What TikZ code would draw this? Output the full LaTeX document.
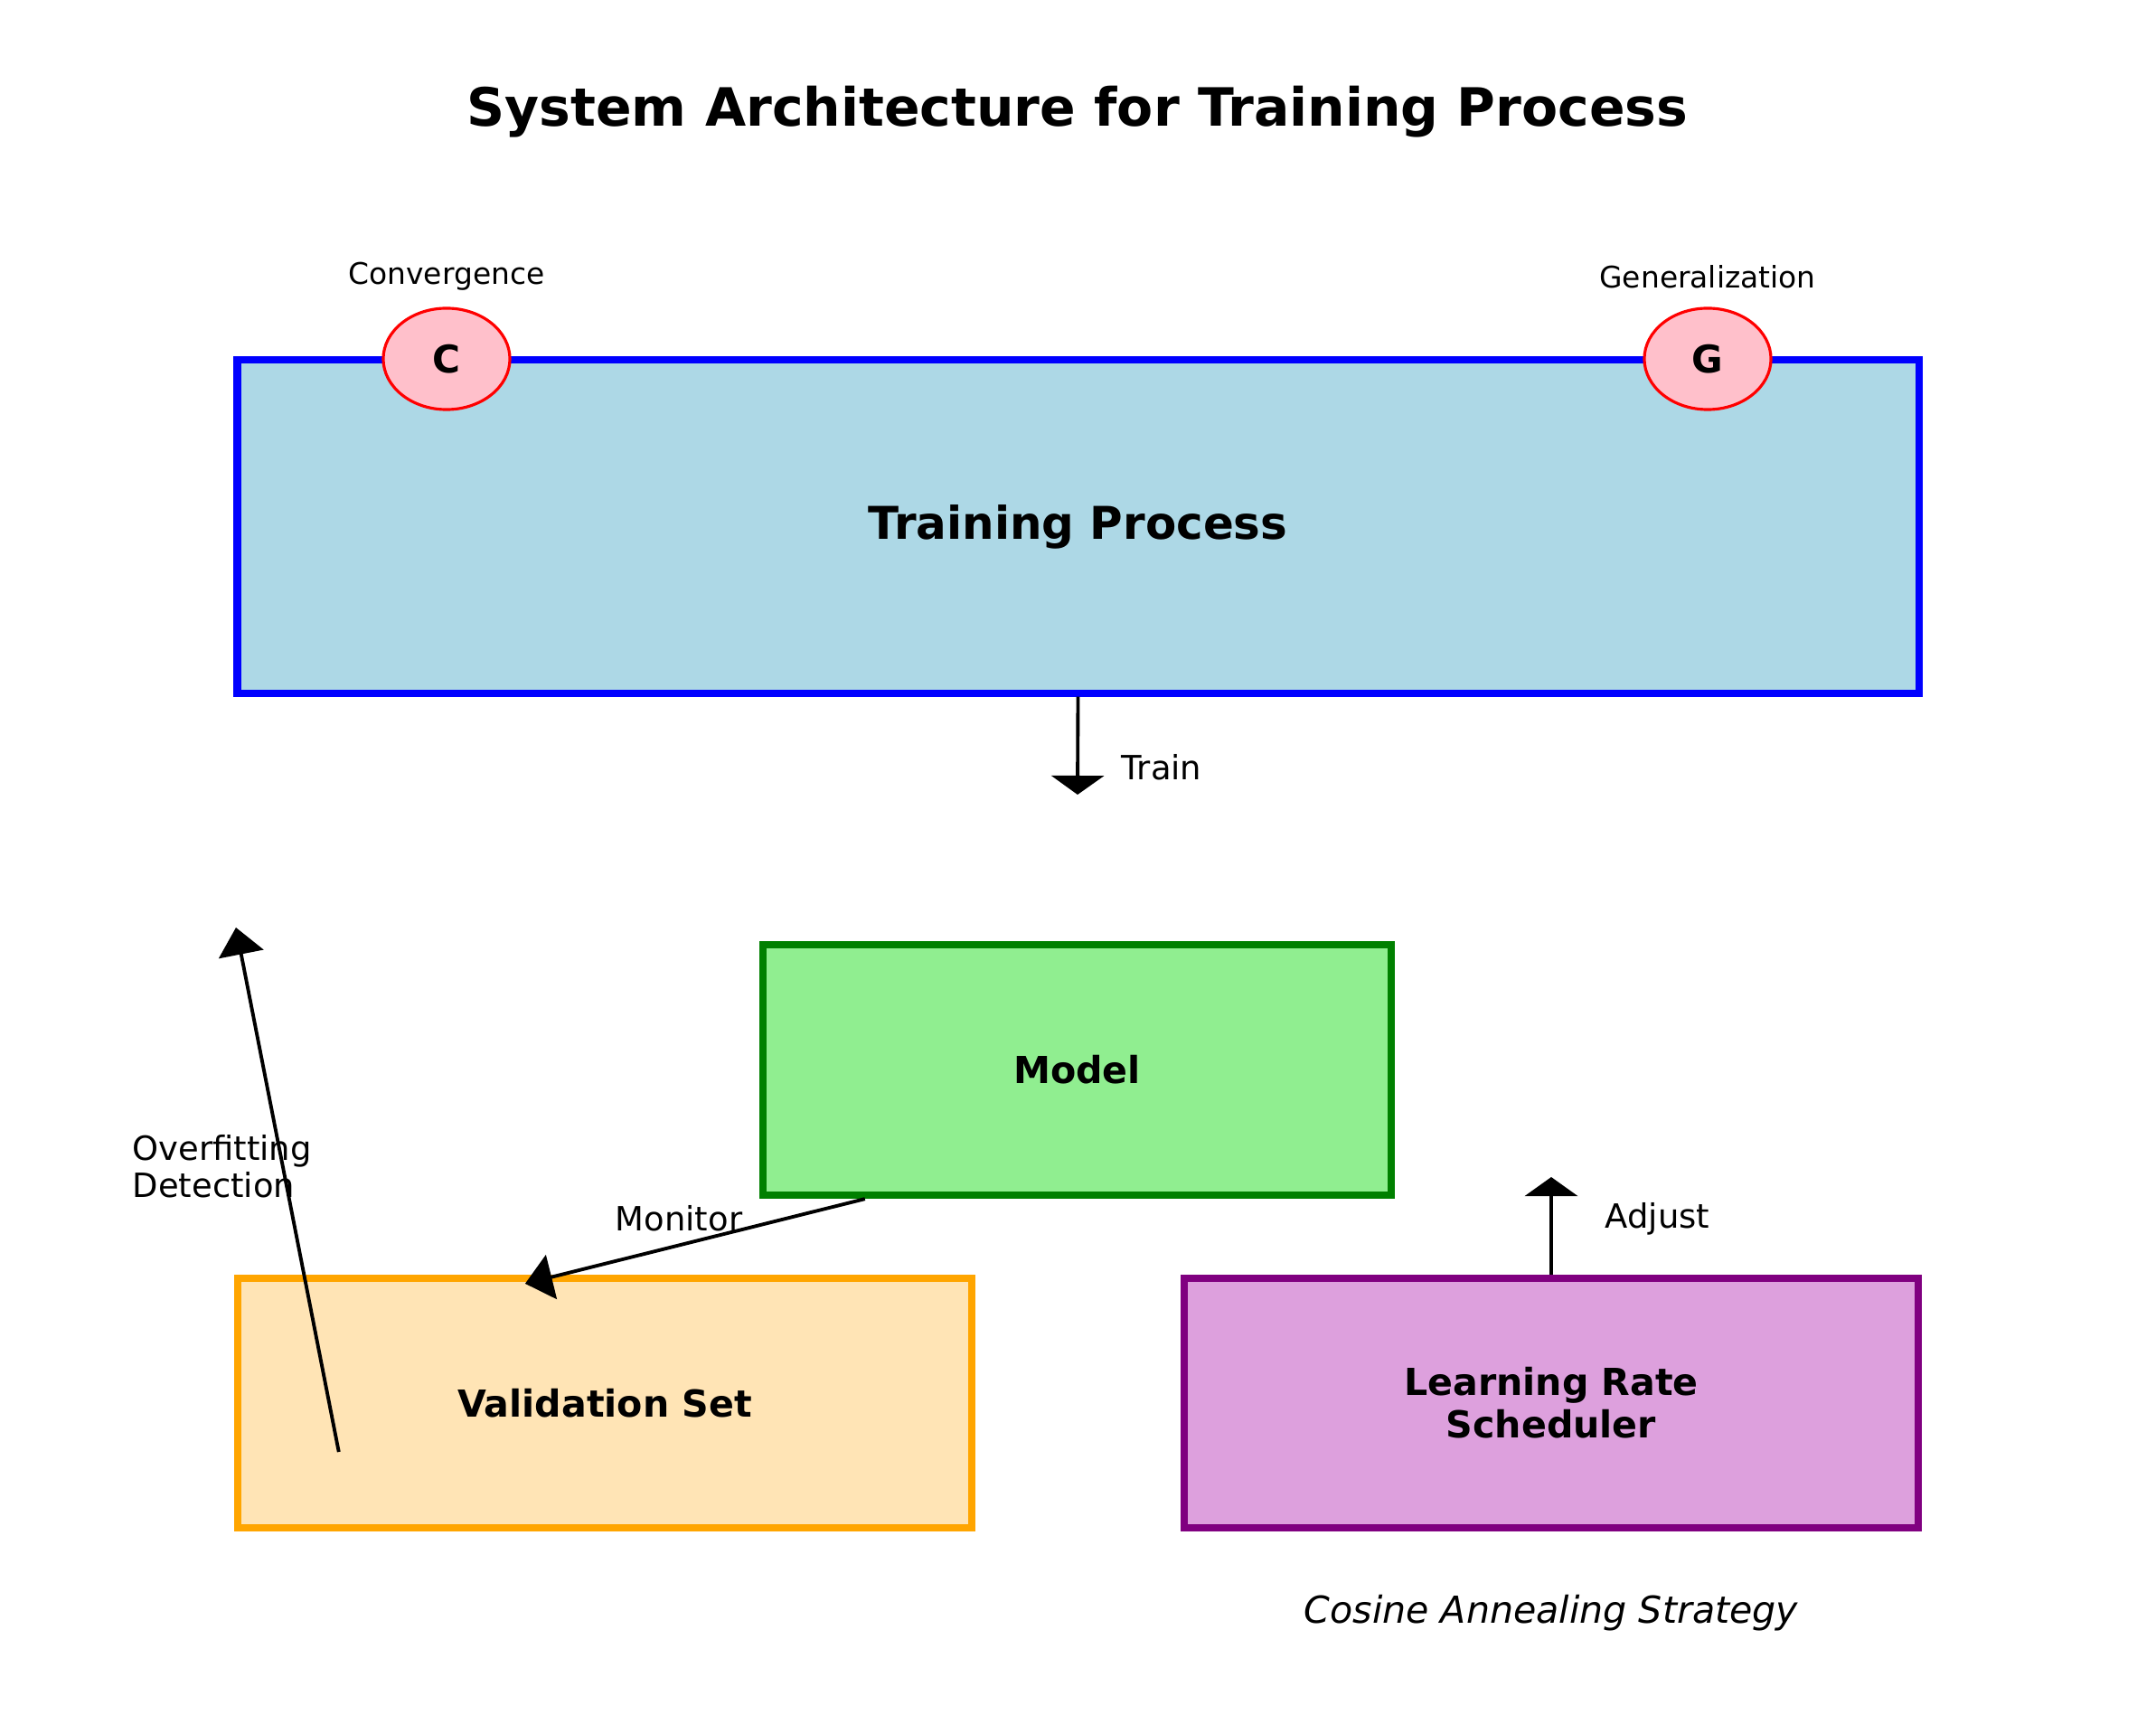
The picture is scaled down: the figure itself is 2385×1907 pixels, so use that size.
\documentclass[tikz,border=0pt]{standalone}
\usepackage{fontspec}
\setmainfont{DejaVu Sans}
\usetikzlibrary{arrows.meta,shapes.geometric,calc}
\definecolor{lblue}{HTML}{ADD8E6}
\definecolor{pblue}{HTML}{0000FF}
\definecolor{ppink}{HTML}{FFC0CB}
\definecolor{pred}{HTML}{FF0000}
\definecolor{lgreen}{HTML}{90EE90}
\definecolor{pgreen}{HTML}{008000}
\definecolor{moccasin}{HTML}{FFE4B5}
\definecolor{porange}{HTML}{FFA500}
\definecolor{plum}{HTML}{DDA0DD}
\definecolor{ppurple}{HTML}{800080}
\tikzset{
  box/.style={draw, rectangle, line width=2.3pt, inner sep=0pt, align=center, font=\fontsize{11.7}{13.4}\selectfont\bfseries},
  marker/.style={draw=pred, fill=ppink, ellipse, line width=0.9pt, inner sep=0pt, minimum width=1.40cm, minimum height=1.12cm, font=\fontsize{12}{14}\selectfont\bfseries},
  small/.style={font=\fontsize{9.35}{11}\selectfont, inner sep=0pt},
  lbl/.style={font=\fontsize{10.5}{11.7}\selectfont, inner sep=0pt},
  conn/.style={line width=1.1pt, -{Triangle[length=0.21cm, width=0.58cm]}},
  connd/.style={line width=1.1pt, -{Triangle[length=0.3cm, width=0.5cm]}},
}
\begin{document}
\begin{tikzpicture}[x=0.01cm, y=-0.01cm]
\useasboundingbox[fill=white] (0,0) rectangle (2385,1907);
\node[font=\fontsize{16.6}{19}\selectfont\bfseries] (title) at (1192,124) {System Architecture for Training Process};

\node[box, fill=lblue, draw=pblue, minimum width=18.59cm, minimum height=3.68cm, font=\fontsize{14.2}{16}\selectfont\bfseries] (train) at (1192.5,582.5) {Training Process};
\node[marker] (c) at (494,397) {C};
\node[marker] (g) at (1889,397) {G};
\node[small] (conv) at (494,306) {Convergence};
\node[small] (gen) at (1889,306) {Generalization};

\node[box, fill=lgreen, draw=pgreen, minimum width=6.95cm, minimum height=2.77cm] (model) at (1191.5,1183.5) {Model};
\node[box, fill=moccasin, draw=porange, minimum width=8.12cm, minimum height=2.76cm] (val) at (669,1552) {Validation Set};
\node[box, fill=plum, draw=ppurple, minimum width=8.12cm, minimum height=2.76cm] (lr) at (1716,1552) {Learning Rate\\Scheduler};
\node[font=\fontsize{11.7}{13}\selectfont\itshape, inner sep=0pt] (cos) at (1716,1784) {Cosine Annealing Strategy};

\coordinate (traintip) at (1192,879);
\draw[conn] (train.south) -- (traintip);
\node[lbl, anchor=west] (trainlbl) at (1240,849) {Train};

\coordinate (adjtip) at (1716,1302);
\draw[conn] (lr.north) -- (adjtip);
\node[lbl, anchor=west] (adjlbl) at (1775,1348) {Adjust};

\draw[connd] ([xshift=1.17cm]model.south west) -- ([xshift=3.22cm, yshift=-0.1cm]val.north west);
\node[lbl] (monlbl) at (751,1348) {Monitor};

\coordinate (ovtip) at (261,1026);
\draw[connd] ([xshift=1.16cm, yshift=0.88cm]val.south west) -- (ovtip);
\node[lbl, anchor=west, align=left] (ovlbl) at (146,1290) {Overfitting\\Detection};
\end{tikzpicture}
\end{document}
